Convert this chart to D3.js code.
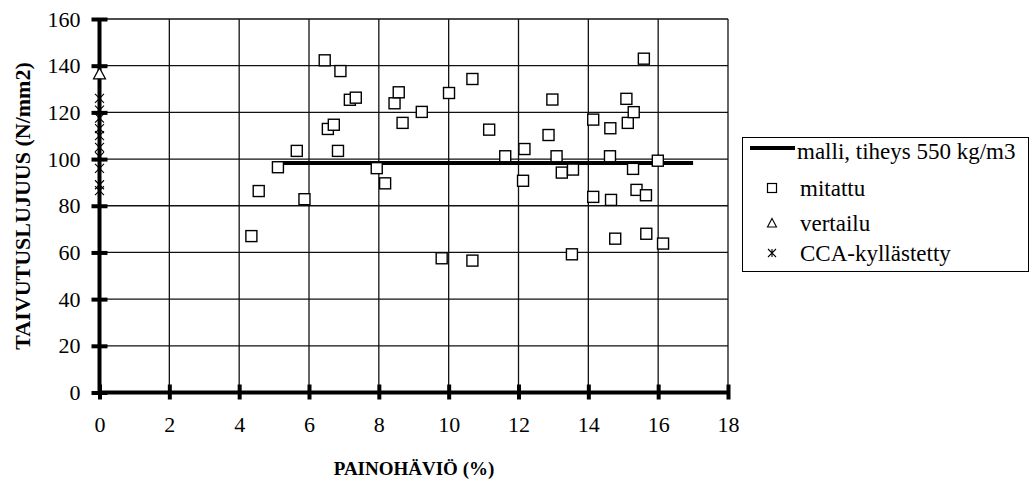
<!DOCTYPE html>
<html>
<head>
<meta charset="utf-8">
<script src="https://cdn.jsdelivr.net/npm/d3@7"></script>
<style>
  body { margin: 0; background: #fff; }
  svg { display: block; }
</style>
</head>
<body>
<div class="canvas"></div>
<script>
// data
const mitattuX = [4.56, 5.11, 4.35, 5.65, 5.87, 6.45, 6.54, 6.71, 6.83, 6.9, 7.17, 7.34,
  7.94, 8.18, 8.45, 8.57, 8.68, 9.8, 9.23, 10.01, 10.68, 10.68, 11.16, 11.62, 12.13,
  12.17, 12.86, 12.97, 13.09, 13.24, 13.53, 13.56, 14.14, 14.14, 14.62, 14.63, 14.65,
  14.77, 15.09, 15.13, 15.28, 15.3, 15.38, 15.59, 15.65, 15.66, 15.99, 16.14];
const mitattuY = [86.3, 96.5, 67, 103.5, 82.8, 142.3, 112.9, 114.7, 103.5, 137.7, 125.4, 126.3,
  96.1, 89.6, 123.9, 128.6, 115.5, 57.5, 120.2, 128.3, 134.3, 56.5, 112.6, 101.2, 90.7,
  104.3, 110.3, 125.5, 101.2, 94.2, 59.2, 95.5, 116.9, 83.8, 101.2, 113.2, 82.5,
  65.9, 125.8, 115.5, 95.8, 120.1, 86.8, 143.0, 84.5, 68.0, 99.3, 63.8];
const vertailuX = [0];
const vertailuY = [136.5];
const ccaX = [0, 0, 0, 0, 0, 0, 0, 0, 0, 0];
const ccaY = [126, 121, 117.5, 113, 110, 105, 101, 96, 89, 86.5];
const malliX = [5, 17];
const malliY = [98.3, 98.3];
const xTicks = [0, 2, 4, 6, 8, 10, 12, 14, 16, 18];
const yTicks = [0, 20, 40, 60, 80, 100, 120, 140, 160];
const legendLabels = ['malli, tiheys 550 kg/m3', 'mitattu', 'vertailu', 'CCA-kyllästetty'];

const serif = "'Liberation Serif', 'Times New Roman', serif";
const dims = { width: 1029, height: 480, left: 99.5, right: 728, top: 19, bottom: 392.5, fontSize: 22 };

const svg = d3.select('.canvas').append('svg')
  .attr('width', dims.width)
  .attr('height', dims.height);

const x = d3.scaleLinear().domain([0, 18]).range([dims.left, dims.right]);
const y = d3.scaleLinear().domain([0, 160]).range([dims.bottom, dims.top]);

// grid
const grid = svg.append('g').attr('stroke', '#111').attr('stroke-width', 1.3);
grid.selectAll('line.h').data(yTicks.slice(1)).enter().append('line')
  .attr('x1', dims.left).attr('x2', dims.right)
  .attr('y1', d => y(d)).attr('y2', d => y(d));
grid.selectAll('line.v').data(xTicks.slice(1)).enter().append('line')
  .attr('x1', d => x(d)).attr('x2', d => x(d))
  .attr('y1', dims.top).attr('y2', dims.bottom);

// axes
const yAxis = d3.axisLeft(y).tickValues(yTicks).tickSize(8).tickPadding(11);
const yAxisGroup = svg.append('g').attr('transform', `translate(${dims.left},0)`).call(yAxis);
yAxisGroup.select('path.domain').attr('stroke', '#000').attr('stroke-width', 4).attr('d', `M0,${dims.top}V${dims.bottom}`);
yAxisGroup.selectAll('.tick line').attr('x1', -8).attr('x2', 8).attr('stroke', '#000').attr('stroke-width', 4);
yAxisGroup.selectAll('text')
  .attr('fill', '#000')
  .style('font-family', serif)
  .style('font-size', dims.fontSize + 'px');

const xAxis = d3.axisBottom(x).tickValues(xTicks).tickSize(7).tickPadding(17);
const xAxisGroup = svg.append('g').attr('transform', `translate(0,${dims.bottom})`).call(xAxis);
xAxisGroup.select('path.domain').attr('stroke', '#000').attr('stroke-width', 4).attr('d', `M${dims.left},0H${dims.right}`);
xAxisGroup.selectAll('.tick line').attr('y1', -8).attr('y2', 7).attr('stroke', '#000').attr('stroke-width', 4);
xAxisGroup.selectAll('text')
  .attr('fill', '#000')
  .style('font-family', serif)
  .style('font-size', dims.fontSize + 'px');

// titles
svg.append('text')
  .attr('x', 414).attr('y', 475)
  .attr('text-anchor', 'middle')
  .style('font-family', serif)
  .style('font-weight', 'bold').style('font-size', '19px')
  .text('PAINOHÄVIÖ (%)');
svg.append('text')
  .attr('transform', `translate(30,206) rotate(-90)`)
  .attr('text-anchor', 'middle')
  .style('font-family', serif)
  .style('font-weight', 'bold').style('font-size', '22px')
  .text('TAIVUTUSLUJUUS (N/mm2)');

// model line
const line = d3.line().x(d => x(d[0])).y(d => y(d[1]));
svg.append('path')
  .datum(d3.zip(malliX, malliY))
  .attr('d', line)
  .attr('fill', 'none').attr('stroke', '#000').attr('stroke-width', 4);

// asterisk (x with vertical bar)
const asterisk = (s) => {
  const h = s / 2;
  return `M${-h},${-h}L${h},${h}M${-h},${h}L${h},${-h}M0,${-h}L0,${h}`;
};

// measured squares
svg.append('g').selectAll('rect')
  .data(d3.zip(mitattuX, mitattuY))
  .enter().append('rect')
  .attr('x', d => x(d[0]) - 5.5).attr('y', d => y(d[1]) - 5.5)
  .attr('width', 11).attr('height', 11)
  .attr('fill', '#fff').attr('stroke', '#000').attr('stroke-width', 1.4);

// reference triangles
svg.append('g').selectAll('path')
  .data(d3.zip(vertailuX, vertailuY))
  .enter().append('path')
  .attr('transform', d => `translate(${x(d[0])},${y(d[1])})`)
  .attr('d', 'M0,-6L6,5H-6Z')
  .attr('fill', '#fff').attr('stroke', '#000').attr('stroke-width', 1.2);

// CCA asterisks
svg.append('g').selectAll('path')
  .data(d3.zip(ccaX, ccaY))
  .enter().append('path')
  .attr('transform', d => `translate(${x(d[0])},${y(d[1])})`)
  .attr('d', asterisk(9))
  .attr('fill', 'none').attr('stroke', '#000').attr('stroke-width', 1.1);

// legend
const legend = svg.append('g');
legend.append('rect')
  .attr('x', 742.5).attr('y', 137.5).attr('width', 286).attr('height', 134)
  .attr('fill', '#fff').attr('stroke', '#000').attr('stroke-width', 1);
const rowY = [151, 188, 223, 253];
legend.append('line')
  .attr('x1', 750).attr('x2', 795).attr('y1', 148).attr('y2', 148)
  .attr('stroke', '#000').attr('stroke-width', 4);
legend.append('rect')
  .attr('x', 767.5).attr('y', rowY[1] - 4.5).attr('width', 9).attr('height', 9)
  .attr('fill', '#fff').attr('stroke', '#000').attr('stroke-width', 1.2);
legend.append('path')
  .attr('transform', `translate(772,${rowY[2]})`)
  .attr('d', 'M0,-4.5L4.5,4H-4.5Z')
  .attr('fill', '#fff').attr('stroke', '#000').attr('stroke-width', 1.1);
legend.append('path')
  .attr('transform', `translate(772,${rowY[3]})`)
  .attr('d', asterisk(8))
  .attr('fill', 'none').attr('stroke', '#000').attr('stroke-width', 1.1);
legend.selectAll('text.lbl')
  .data(legendLabels)
  .enter().append('text')
  .attr('x', (d, i) => i === 0 ? 797 : 800)
  .attr('y', (d, i) => rowY[i])
  .attr('dy', '0.35em')
  .style('font-family', serif)
  .style('font-size', '23px')
  .text(d => d);
</script>
</body>
</html>
